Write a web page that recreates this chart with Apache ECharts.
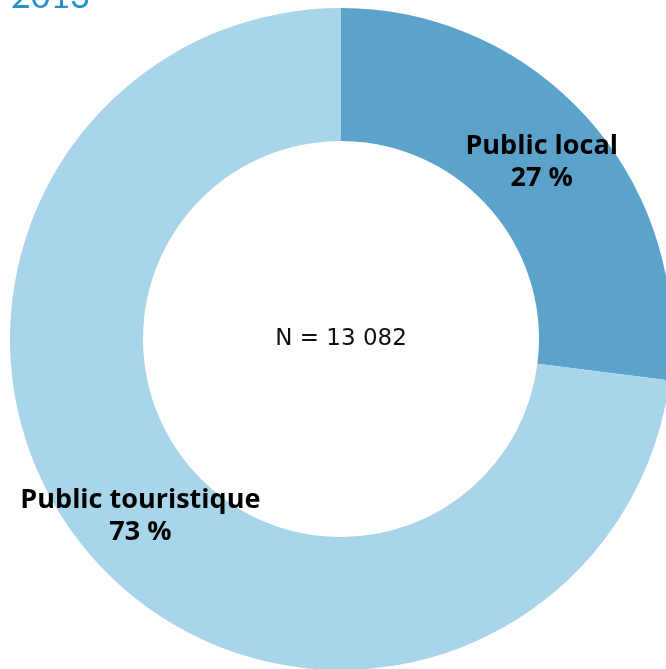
<!DOCTYPE html>
<html>
<head>
<meta charset="utf-8">
<script src="https://cdn.jsdelivr.net/npm/echarts@6/dist/echarts.min.js"></script>
<style>
  html, body { margin: 0; padding: 0; background: #fff; }
  #chart { width: 666px; height: 669px; }
</style>
</head>
<body>
<div id="chart"></div>
<script>
// données
const categories = ['Public local', 'Public touristique']
const shares = [27, 73]
const colors = ['#5ba3cb', '#a9d5ea']
const yearLabel = '2013'
const totalLabel = 'N = 13 082'

const chart = echarts.init(document.getElementById('chart'))
chart.setOption({
  animation: false,
  title: {
    text: yearLabel,
    left: 6,
    top: -25,
    textStyle: { color: '#2a90c8', fontSize: 34, fontWeight: 'normal', fontFamily: 'Lato' }
  },
  graphic: [
    {
      type: 'text',
      x: 341,
      y: 339,
      style: {
        text: totalLabel,
        align: 'center',
        verticalAlign: 'middle',
        fontSize: 23,
        fontFamily: 'DejaVu Sans',
        fill: '#111'
      }
    }
  ],
  series: [
    {
      type: 'pie',
      center: [341, 339],
      radius: [198, 331],
      startAngle: 90,
      clockwise: true,
      silent: true,
      label: {
        show: true,
        position: 'inside',
        formatter: p => p.name + '\n' + p.value + ' %',
        color: '#000',
        fontSize: 27,
        fontWeight: 'bold',
        fontFamily: 'Open Sans',
        lineHeight: 32
      },
      labelLine: { show: false },
      itemStyle: { borderWidth: 0 },
      data: categories.map((name, i) => ({
        name,
        value: shares[i],
        itemStyle: { color: colors[i] }
      }))
    }
  ]
})
</script>
</body>
</html>
